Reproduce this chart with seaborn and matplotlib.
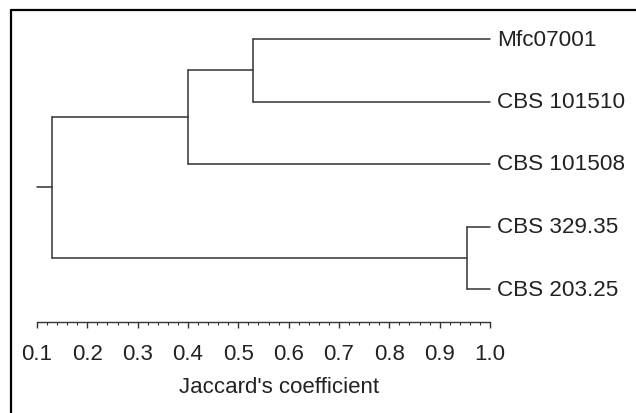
import numpy as np
import pandas as pd
import matplotlib
matplotlib.use("Agg")
import matplotlib.pyplot as plt
from matplotlib.lines import Line2D
from matplotlib.ticker import FixedLocator
import seaborn as sns

# --- data -----------------------------------------------------------------
leaves = ["Mfc07001", "CBS 101510", "CBS 101508", "CBS 329.35", "CBS 203.25"]
# merges: (child a, child b, coefficient); children >= len(leaves) are earlier merges
merge_a = [0, 2, 3, 6]
merge_b = [1, 5, 4, 7]
merge_coef = [0.53, 0.40, 0.955, 0.13]
root_start = 0.10
leaf_coef = 1.0
tick_labels = ["0.1", "0.2", "0.3", "0.4", "0.5", "0.6", "0.7", "0.8", "0.9", "1.0"]

# --- build segments ------------------------------------------------------
node_x = {i: leaf_coef for i in range(len(leaves))}
node_y = {i: float(i) for i in range(len(leaves))}
rows = []
seg = 0
for k, (a, b, c) in enumerate(zip(merge_a, merge_b, merge_coef)):
    nid = len(leaves) + k
    for ch in (a, b):
        rows += [(seg, node_x[ch], node_y[ch]), (seg, c, node_y[ch])]
        seg += 1
    rows += [(seg, c, node_y[a]), (seg, c, node_y[b])]
    seg += 1
    node_x[nid] = c
    node_y[nid] = (node_y[a] + node_y[b]) / 2
root = len(leaves) + len(merge_a) - 1
rows += [(seg, root_start, node_y[root]), (seg, node_x[root], node_y[root])]
df = pd.DataFrame(rows, columns=["seg", "x", "y"])

# --- plot -----------------------------------------------------------------
sns.set_theme(style="white")
plt.rcParams['font.family'] = ['Liberation Sans', 'DejaVu Sans']

W, H = 636, 414
fig = plt.figure(figsize=(W / 100, H / 100), dpi=100)
ax = fig.add_axes([0, 0, 1, 1])

sns.lineplot(data=df, x="x", y="y", units="seg", estimator=None, sort=False,
             color="#333333", lw=1.1, ax=ax, legend=False)

for i, name in enumerate(leaves):
    ax.annotate(name, (leaf_coef, i), xytext=(5, 0), textcoords="offset points",
                va="center", ha="left", fontsize=16.2, color="#222222")

# pixel mapping: 0.1 -> x=37, 1.0 -> x=490 ; leaf rows 40 + 62.5*i
sx = (490 - 37) / 0.9
ax.set_xlim(0.1 - 37 / sx, 1.0 + (W - 490) / sx)
ax.set_ylim((H - 40) / 62.5, -40 / 62.5)

for s in ["top", "right", "left"]:
    ax.spines[s].set_visible(False)
ax.spines["bottom"].set_position(("data", (323 - 40) / 62.5))
ax.spines["bottom"].set_bounds(0.1, 1.0)
ax.spines["bottom"].set_color("#333333")
ax.spines["bottom"].set_linewidth(1.0)

major = np.round(np.arange(0.1, 1.01, 0.1), 2)
minor = [v for v in np.round(np.arange(0.1, 1.001, 0.02), 2)
         if not np.any(np.isclose(v, major))]
ax.set_xticks(major)
ax.set_xticklabels(tick_labels)
ax.xaxis.set_minor_locator(FixedLocator(minor))
ax.tick_params(axis="x", which="major", direction="out", length=4, width=1,
               color="#333333", pad=11, labelsize=16, labelcolor="#222222", bottom=True)
ax.tick_params(axis="x", which="minor", direction="out", length=2.5, width=0.8,
               color="#333333", bottom=True)
ax.set_yticks([])
ax.set_ylabel("")
ax.set_xlabel("Jaccard's coefficient", fontsize=16, color="#222222")
ax.xaxis.set_label_coords(279 / W, 1 - 377 / H)

# frame lines (top and left only)
fig.add_artist(Line2D([10.5 / W, 1], [1 - 10.5 / H, 1 - 10.5 / H], color="black", lw=1.6,
                      transform=fig.transFigure))
fig.add_artist(Line2D([10.5 / W, 10.5 / W], [0, 1 - 10.5 / H], color="black", lw=1.6,
                      transform=fig.transFigure))

fig.savefig("out.png", dpi=100)
